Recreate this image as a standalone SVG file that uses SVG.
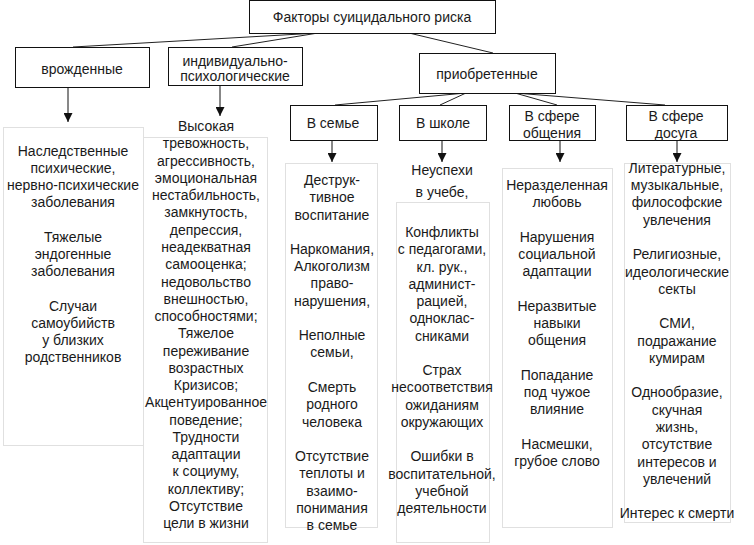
<svg xmlns="http://www.w3.org/2000/svg" width="754" height="545" viewBox="0 0 754 545">
<style>
.box{fill:#fff;stroke:#111;stroke-width:1}
.panel{fill:#fff;stroke:#e0e0e0;stroke-width:1}
.ln{stroke:#222;stroke-width:1;fill:none}
.arr{stroke:#111;stroke-width:1;fill:none;marker-end:url(#ah)}
text{font-family:"Liberation Sans",Arial,sans-serif;font-size:14px;fill:#1a1a1a;text-anchor:middle}
</style>
<defs>
<marker id="ah" viewBox="0 0 10 10" refX="10" refY="5" markerWidth="10" markerHeight="9" markerUnits="userSpaceOnUse" orient="auto"><path d="M0,0 L10,5 L0,10 Z" fill="#111"/></marker>
</defs>
<g id="panels">
<rect class="panel" x="3.5" y="127.5" width="140" height="318"/>
<rect class="panel" x="143.5" y="137.5" width="124" height="405"/>
<rect class="panel" x="285.5" y="163.5" width="92" height="364"/>
<rect class="panel" x="396.5" y="202.5" width="93" height="340"/>
<rect class="panel" x="502.5" y="168.5" width="110" height="359"/>
<rect class="panel" x="624.5" y="163.5" width="106" height="359"/>
</g>
<g id="connectors">
<line class="ln" x1="318" y1="33" x2="73" y2="47"/>
<line class="ln" x1="318" y1="33" x2="232" y2="47"/>
<line class="ln" x1="409" y1="33" x2="493" y2="53"/>
<line class="ln" x1="466" y1="93" x2="335" y2="105"/>
<line class="ln" x1="466" y1="93" x2="440" y2="105"/>
<line class="ln" x1="515" y1="93" x2="557" y2="105"/>
<line class="ln" x1="515" y1="93" x2="665" y2="105"/>
<line class="arr" x1="68" y1="87" x2="68" y2="122"/>
<line class="arr" x1="220" y1="85" x2="220" y2="116"/>
<line class="arr" x1="332" y1="140" x2="332" y2="162"/>
<line class="arr" x1="442" y1="140" x2="442" y2="162"/>
<line class="arr" x1="560" y1="140" x2="560" y2="162"/>
<line class="arr" x1="677" y1="140" x2="677" y2="162"/>
</g>
<g id="n-root"><rect class="box" x="249.5" y="0.5" width="246" height="33"/><text x="372" y="22">Факторы суицидального риска</text></g>
<g id="n-vrozh"><rect class="box" x="15.5" y="47.5" width="134" height="40"/><text x="82" y="74">врожденные</text></g>
<g id="n-indiv"><rect class="box" x="168.5" y="47.5" width="134" height="38"/><text x="235" y="66">индивидуально-</text><text x="235" y="81">психологические</text></g>
<g id="n-priobr"><rect class="box" x="419.5" y="53.5" width="136" height="40"/><text x="487" y="79">приобретенные</text></g>
<g id="n-semya"><rect class="box" x="290.5" y="105.5" width="87" height="35"/><text x="333" y="128">В семье</text></g>
<g id="n-shkola"><rect class="box" x="399.5" y="105.5" width="87" height="35"/><text x="443" y="128">В школе</text></g>
<g id="n-obsh"><rect class="box" x="509.5" y="105.5" width="86" height="35"/><text x="552" y="121">В сфере</text><text x="552" y="138">общения</text></g>
<g id="n-dosug"><rect class="box" x="626.5" y="105.5" width="101" height="35"/><text x="676" y="121">В сфере</text><text x="676" y="138">досуга</text></g>
<g id="t-vrozh">
<text x="73" y="156">Наследственные</text>
<text x="73" y="173">психические,</text>
<text x="73" y="190">нервно-психические</text>
<text x="73" y="207">заболевания</text>
<text x="73" y="242">Тяжелые</text>
<text x="73" y="259">эндогенные</text>
<text x="73" y="276">заболевания</text>
<text x="73" y="311">Случаи</text>
<text x="73" y="328">самоубийств</text>
<text x="73" y="345">у близких</text>
<text x="73" y="362">родственников</text>
</g>
<g id="t-indiv">
<text x="206" y="131">Высокая</text>
<text x="206" y="148">тревожность,</text>
<text x="206" y="166">агрессивность,</text>
<text x="206" y="183">эмоциональная</text>
<text x="206" y="200">нестабильность,</text>
<text x="206" y="217">замкнутость,</text>
<text x="206" y="235">депрессия,</text>
<text x="206" y="252">неадекватная</text>
<text x="206" y="269">самооценка;</text>
<text x="206" y="287">недовольство</text>
<text x="206" y="304">внешностью,</text>
<text x="206" y="321">способностями;</text>
<text x="206" y="338">Тяжелое</text>
<text x="206" y="356">переживание</text>
<text x="206" y="373">возрастных</text>
<text x="206" y="390">Кризисов;</text>
<text x="206" y="407">Акцентуированное</text>
<text x="206" y="425">поведение;</text>
<text x="206" y="442">Трудности</text>
<text x="206" y="459">адаптации</text>
<text x="206" y="476">к социуму,</text>
<text x="206" y="494">коллективу;</text>
<text x="206" y="511">Отсутствие</text>
<text x="206" y="528">цели в жизни</text>
</g>
<g id="t-semya">
<text x="332" y="185">Деструк-</text>
<text x="332" y="202">тивное</text>
<text x="332" y="220">воспитание</text>
<text x="332" y="254">Наркомания,</text>
<text x="332" y="271">Алкоголизм</text>
<text x="332" y="288">право-</text>
<text x="332" y="306">нарушения,</text>
<text x="332" y="340">Неполные</text>
<text x="332" y="357">семьи,</text>
<text x="332" y="392">Смерть</text>
<text x="332" y="409">родного</text>
<text x="332" y="427">человека</text>
<text x="332" y="461">Отсутствие</text>
<text x="332" y="478">теплоты и</text>
<text x="332" y="496">взаимо-</text>
<text x="332" y="513">понимания</text>
<text x="332" y="530">в семье</text>
</g>
<g id="t-shkola">
<text x="442" y="175">Неуспехи</text>
<text x="442" y="197">в учебе,</text>
<text x="442" y="237">Конфликты</text>
<text x="442" y="254">с педагогами,</text>
<text x="442" y="272">кл. рук.,</text>
<text x="442" y="289">админист-</text>
<text x="442" y="306">рацией,</text>
<text x="442" y="323">одноклас-</text>
<text x="442" y="341">сниками</text>
<text x="442" y="375">Страх</text>
<text x="442" y="392">несоответствия</text>
<text x="442" y="410">ожиданиям</text>
<text x="442" y="427">окружающих</text>
<text x="442" y="461">Ошибки в</text>
<text x="442" y="479">воспитательной,</text>
<text x="442" y="496">учебной</text>
<text x="442" y="513">деятельности</text>
</g>
<g id="t-obsh">
<text x="557" y="190">Неразделенная</text>
<text x="557" y="207">любовь</text>
<text x="557" y="242">Нарушения</text>
<text x="557" y="259">социальной</text>
<text x="557" y="276">адаптации</text>
<text x="557" y="311">Неразвитые</text>
<text x="557" y="328">навыки</text>
<text x="557" y="345">общения</text>
<text x="557" y="380">Попадание</text>
<text x="557" y="397">под чужое</text>
<text x="557" y="414">влияние</text>
<text x="557" y="449">Насмешки,</text>
<text x="557" y="466">грубое слово</text>
</g>
<g id="t-dosug">
<text x="677" y="173">Литературные,</text>
<text x="677" y="190">музыкальные,</text>
<text x="677" y="207">философские</text>
<text x="677" y="225">увлечения</text>
<text x="677" y="259">Религиозные,</text>
<text x="677" y="277">идеологические</text>
<text x="677" y="294">секты</text>
<text x="677" y="328">СМИ,</text>
<text x="677" y="346">подражание</text>
<text x="677" y="363">кумирам</text>
<text x="677" y="397">Однообразие,</text>
<text x="677" y="415">скучная</text>
<text x="677" y="432">жизнь,</text>
<text x="677" y="449">отсутствие</text>
<text x="677" y="467">интересов и</text>
<text x="677" y="484">увлечений</text>
<text x="677" y="518">Интерес к смерти</text>
</g>
</svg>
